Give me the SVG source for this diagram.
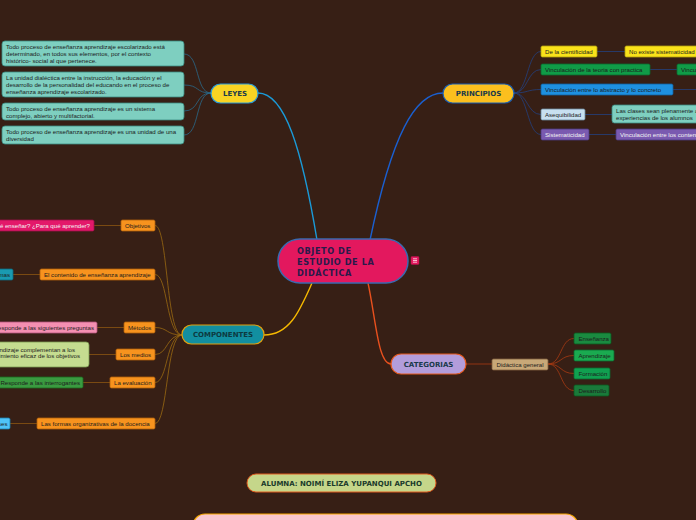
<svg xmlns="http://www.w3.org/2000/svg" width="696" height="520" viewBox="0 0 696 520">
<style>
.t{font-family:"Liberation Sans",Arial,sans-serif;font-size:6.1px;fill:#1c1c1c}
.w{fill:#f4f4f4}
.h{font-family:"DejaVu Sans",Verdana,sans-serif;font-weight:bold;font-size:7px;text-anchor:middle}
.leaf{stroke-width:0.8}
.c{fill:none}
</style>
<rect width="696" height="520" fill="#371f15"/>
<g id="connectors">
  <path class="c" d="M258,93 C285,93 302,150 317,240" stroke="#1a9ad8" stroke-width="1.4"/>
  <path class="c" d="M443,93 C415,93 392,135 370,240" stroke="#1a5fd0" stroke-width="1.4"/>
  <path class="c" d="M312,283 C300,310 290,335 264,335" stroke="#f5b800" stroke-width="1.4"/>
  <path class="c" d="M368,283 C376,320 378,364 391,364" stroke="#e8501e" stroke-width="1.4"/>
  <g stroke="#2a6a8a" stroke-width="0.8" fill="none">
    <path d="M211,93 C195,93 200,54 184,54"/>
    <path d="M211,93 C195,93 200,85 184,85"/>
    <path d="M211,93 C195,93 200,111 184,111"/>
    <path d="M211,93 C195,93 200,135 184,135"/>
  </g>
  <g stroke="#23407e" stroke-width="0.8" fill="none">
    <path d="M514,93 C528,93 527,51.5 541,51.5"/>
    <path d="M514,93 C528,93 527,69.5 541,69.5"/>
    <path d="M514,93 C528,93 527,89.5 541,89.5"/>
    <path d="M514,93 C528,93 527,114.5 541,114.5"/>
    <path d="M514,93 C528,93 527,134.5 541,134.5"/>
    <path d="M597,51.5 H625 M650,69.5 H677 M673,89.5 H696 M585,114.5 H612 M589,134.5 H616"/>
  </g>
  <g stroke="#9a6a12" stroke-width="0.8" fill="none">
    <path d="M182,335 C166,335 168,225.5 155,225.5"/>
    <path d="M182,335 C166,335 168,274.5 155,274.5"/>
    <path d="M182,335 C166,335 168,327.5 155,327.5"/>
    <path d="M182,335 C166,335 168,354.5 155,354.5"/>
    <path d="M182,335 C166,335 168,382.5 155,382.5"/>
    <path d="M182,335 C166,335 168,423.5 155,423.5"/>
  </g>
  <g stroke="#7a4a12" stroke-width="1" fill="none">
    <path d="M121,225.5 H94 M40,274.5 H13 M124,327.5 H97 M116,354.5 H89 M110,382.5 H83 M37,423.5 H10"/>
  </g>
  <g stroke="#a83a12" stroke-width="0.8" fill="none">
    <path d="M466,364 H492"/>
    <path d="M548,364 C562,364 560,338.5 574,338.5"/>
    <path d="M548,364 C562,364 560,355.5 574,355.5"/>
    <path d="M548,364 C562,364 560,373.5 574,373.5"/>
    <path d="M548,364 C562,364 560,390.5 574,390.5"/>
  </g>
</g>

<g id="central">
  <rect x="278" y="239" width="130" height="44" rx="22" fill="#e3185e" stroke="#3a6ab0" stroke-width="1.5"/>
  <text font-family="DejaVu Sans,Verdana,sans-serif" font-weight="bold" font-size="8.2" fill="#2a1a4a" letter-spacing="0.55">
    <tspan x="297" y="254">OBJETO DE</tspan>
    <tspan x="297" y="265">ESTUDIO DE LA</tspan>
    <tspan x="297" y="276">DIDÁCTICA</tspan>
  </text>
  <rect x="411" y="256.5" width="8" height="8" rx="1" fill="#e3185e" stroke="#b0104a" stroke-width="0.5"/>
  <path d="M413,258.8 H417 M413,260.5 H417 M413,262.2 H417" stroke="#fff" stroke-width="0.7"/>
</g>

<g id="leyes">
  <rect x="211" y="84" width="47" height="19" rx="9.5" fill="#f9d423" stroke="#2a9ad8" stroke-width="1.2"/>
  <text class="h" x="235" y="96" fill="#1a3a4a">LEYES</text>
</g>
<g id="leyes-1">
  <rect class="leaf" x="2" y="41" width="182" height="25" rx="3" fill="#7ecfc0" stroke="#3a8a80"/>
  <text class="t"><tspan x="6" y="49">Todo proceso de enseñanza aprendizaje escolarizado está</tspan><tspan x="6" y="56">determinado, en todos sus elementos, por el contexto</tspan><tspan x="6" y="63">histórico- social al que pertenece.</tspan></text>
</g>
<g id="leyes-2">
  <rect class="leaf" x="2" y="72" width="182" height="25" rx="3" fill="#7ecfc0" stroke="#3a8a80"/>
  <text class="t"><tspan x="6" y="80">La unidad dialéctica entre la instrucción, la educación y el</tspan><tspan x="6" y="87">desarrollo de la personalidad del educando en el proceso de</tspan><tspan x="6" y="94">enseñanza aprendizaje escolarizado.</tspan></text>
</g>
<g id="leyes-3">
  <rect class="leaf" x="2" y="103" width="182" height="17" rx="3" fill="#7ecfc0" stroke="#3a8a80"/>
  <text class="t"><tspan x="6" y="111">Todo proceso de enseñanza aprendizaje es un sistema</tspan><tspan x="6" y="117.5">complejo, abierto y multifactorial.</tspan></text>
</g>
<g id="leyes-4">
  <rect class="leaf" x="2" y="126" width="182" height="18" rx="3" fill="#7ecfc0" stroke="#3a8a80"/>
  <text class="t"><tspan x="6" y="134">Todo proceso de enseñanza aprendizaje es una unidad de una</tspan><tspan x="6" y="141">diversidad</tspan></text>
</g>

<g id="principios">
  <rect x="443" y="84" width="71" height="19" rx="9.5" fill="#fbbf1e" stroke="#1a5fb4" stroke-width="1.2"/>
  <text class="h" x="478.5" y="96" fill="#1a3a4a" font-size="7.3">PRINCIPIOS</text>
</g>
<g id="p-cientificidad">
  <rect class="leaf" x="541" y="46" width="56" height="11" rx="1.5" fill="#f9e21a" stroke="#b0a010"/>
  <text class="t" x="545" y="53.6">De la cientificidad</text>
</g>
<g id="p-sistematicidad-no">
  <rect class="leaf" x="625" y="46" width="80" height="11" rx="1.5" fill="#f9e21a" stroke="#b0a010"/>
  <text class="t" x="629" y="53.6">No existe sistematicidad</text>
</g>
<g id="p-teoria">
  <rect class="leaf" x="541" y="64" width="109" height="11" rx="1.5" fill="#109b47" stroke="#0a6a30"/>
  <text class="t" x="545" y="71.6">Vinculación de  la teoria con practica</text>
</g>
<g id="p-teoria-2">
  <rect class="leaf" x="677" y="64" width="40" height="11" rx="1.5" fill="#109b47" stroke="#0a6a30"/>
  <text class="t" x="681" y="71.6">Vinculación</text>
</g>
<g id="p-abstracto">
  <rect class="leaf" x="541" y="84" width="132" height="11" rx="1.5" fill="#1e90e0" stroke="#1060a0"/>
  <text class="t" x="545" y="91.6">Vinculación entre lo abstracto y lo concreto</text>
</g>
<g id="p-asequibilidad">
  <rect class="leaf" x="541" y="109" width="44" height="11" rx="1.5" fill="#c8e0f0" stroke="#6a8aa0"/>
  <text class="t" x="545" y="116.6">Asequibilidad</text>
</g>
<g id="p-asequibilidad-2">
  <rect class="leaf" x="612" y="105" width="110" height="18" rx="2.5" fill="#7ecfc0" stroke="#3a8a80"/>
  <text class="t"><tspan x="616" y="112.5">Las clases sean plenamente a</tspan><tspan x="616" y="119.5">experiencias  de los alumnos</tspan></text>
</g>
<g id="p-sistematicidad">
  <rect class="leaf" x="541" y="129" width="48" height="11" rx="1.5" fill="#7a5ab0" stroke="#4a3a80"/>
  <text class="t w" x="545" y="136.6">Sistematicidad</text>
</g>
<g id="p-sistematicidad-2">
  <rect class="leaf" x="616" y="129" width="100" height="11" rx="1.5" fill="#7a5ab0" stroke="#4a3a80"/>
  <text class="t w" x="620" y="136.6">Vinculación entre los contenidos</text>
</g>

<g id="componentes">
  <rect x="182" y="325" width="82" height="19" rx="9.5" fill="#128fa0" stroke="#e0a010" stroke-width="1.2"/>
  <text class="h" x="223" y="337" fill="#0d3a40">COMPONENTES</text>
</g>
<g id="c-objetivos">
  <rect class="leaf" x="121" y="220" width="34" height="11" rx="1.5" fill="#f7931e" stroke="#b0600a"/>
  <text class="t" x="125" y="227.6">Objetivos</text>
</g>
<g id="c-objetivos-2">
  <rect class="leaf" x="-30" y="220" width="124" height="11" rx="1.5" fill="#e3186a" stroke="#a0104a"/>
  <text class="t w" x="90" y="227.6" text-anchor="end">¿Qué enseñar? ¿Para qué aprender?</text>
</g>
<g id="c-contenido">
  <rect class="leaf" x="40" y="269" width="115" height="11" rx="1.5" fill="#f7931e" stroke="#b0600a"/>
  <text class="t" x="44" y="276.6">El contenido de enseñanza aprendizaje</text>
</g>
<g id="c-contenido-2">
  <rect class="leaf" x="-30" y="269" width="43" height="11" rx="1.5" fill="#1a9ab0" stroke="#0a6a80"/>
  <text class="t" x="10" y="276.6" text-anchor="end">Sistemas</text>
</g>
<g id="c-metodos">
  <rect class="leaf" x="124" y="322" width="31" height="11" rx="1.5" fill="#f7931e" stroke="#b0600a"/>
  <text class="t" x="128" y="329.6">Métodos</text>
</g>
<g id="c-metodos-2">
  <rect class="leaf" x="-30" y="322" width="127" height="11" rx="1.5" fill="#f48fb1" stroke="#b0507a"/>
  <text class="t" x="94" y="329.6" text-anchor="end">Responde a las siguientes preguntas</text>
</g>
<g id="c-medios">
  <rect class="leaf" x="116" y="349" width="39" height="11" rx="1.5" fill="#f7931e" stroke="#b0600a"/>
  <text class="t" x="120" y="356.6">Los medios</text>
</g>
<g id="c-medios-2">
  <rect class="leaf" x="-100" y="342" width="189" height="25" rx="3" fill="#c5dc90" stroke="#7a9a50"/>
  <text class="t"><tspan x="75" y="351.5" text-anchor="end">Los medios de enseñanza aprendizaje complementan a los</tspan><tspan x="80" y="358" text-anchor="end">métodos para el logro del cumplimiento eficaz de los objetivos</tspan></text>
</g>
<g id="c-evaluacion">
  <rect class="leaf" x="110" y="377" width="45" height="11" rx="1.5" fill="#f7931e" stroke="#b0600a"/>
  <text class="t" x="114" y="384.6">La evaluación</text>
</g>
<g id="c-evaluacion-2">
  <rect class="leaf" x="-30" y="377" width="113" height="11" rx="1.5" fill="#3a9a40" stroke="#1a6a20"/>
  <text class="t" x="80" y="384.6" text-anchor="end">Responde a las interrogantes</text>
</g>
<g id="c-formas">
  <rect class="leaf" x="37" y="418" width="118" height="11" rx="1.5" fill="#f7931e" stroke="#b0600a"/>
  <text class="t" x="41" y="425.6">Las formas organizativas de la docencia</text>
</g>
<g id="c-formas-2">
  <rect class="leaf" x="-30" y="418" width="40" height="11" rx="1.5" fill="#4fc3f7" stroke="#1a80b0"/>
  <text class="t" x="7.5" y="425.6" text-anchor="end">Clases</text>
</g>

<g id="categorias">
  <rect x="391" y="354" width="75" height="20" rx="10" fill="#b39ddb" stroke="#e65a1e" stroke-width="1.2"/>
  <text class="h" x="428.5" y="366.5" fill="#1a3a4a">CATEGORIAS</text>
</g>
<g id="cat-general">
  <rect class="leaf" x="492" y="359" width="56" height="11" rx="1.5" fill="#c8a878" stroke="#806040"/>
  <text class="t" x="496.5" y="366.6">Didáctica general</text>
</g>
<g id="cat-ensenanza">
  <rect class="leaf" x="574" y="333" width="37" height="11" rx="1.5" fill="#1a8a40" stroke="#0a5a20"/>
  <text class="t" x="578.5" y="340.6">Enseñanza</text>
</g>
<g id="cat-aprendizaje">
  <rect class="leaf" x="574" y="350" width="40" height="11" rx="1.5" fill="#1aaa50" stroke="#0a6a30"/>
  <text class="t" x="578.5" y="357.6">Aprendizaje</text>
</g>
<g id="cat-formacion">
  <rect class="leaf" x="574" y="368" width="36" height="11" rx="1.5" fill="#10a050" stroke="#0a6a30"/>
  <text class="t" x="578.5" y="375.6">Formación</text>
</g>
<g id="cat-desarrollo">
  <rect class="leaf" x="574" y="385" width="35" height="11" rx="1.5" fill="#1a7a3a" stroke="#0a5a20"/>
  <text class="t" x="578.5" y="392.6">Desarrollo</text>
</g>

<g id="alumna">
  <rect x="247" y="474" width="189" height="18" rx="9" fill="#c5d68a" stroke="#e05a1e" stroke-width="1"/>
  <text class="h" x="341.5" y="486" fill="#1a3a2a" font-size="6.7">ALUMNA: NOIMÍ ELIZA YUPANQUI APCHO</text>
</g>
<g id="bottom-box">
  <rect x="193" y="514" width="385" height="30" rx="12" fill="#f8c8d0" stroke="#f5a800" stroke-width="1.2"/>
</g>
</svg>
